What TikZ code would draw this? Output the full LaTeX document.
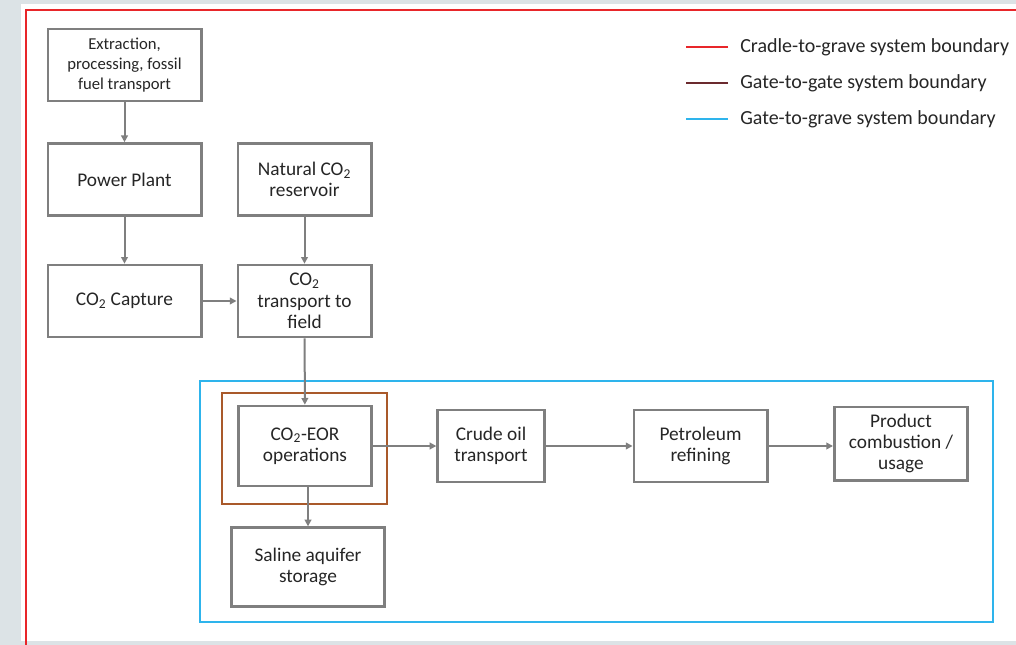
\documentclass[tikz,border=0pt]{standalone}
\usepackage{fontspec}
\setmainfont{Carlito}
\usepackage{xcolor}
\usetikzlibrary{arrows.meta, positioning}

\definecolor{pagegrey}{HTML}{DCE3E6}
\definecolor{boxgrey}{HTML}{7F7F7F}
\definecolor{txtgrey}{HTML}{262626}
\definecolor{cradlered}{HTML}{E8262A}
\definecolor{gatebrown}{HTML}{A9592A}
\definecolor{legbrown}{HTML}{6B2A2E}
\definecolor{gravecyan}{HTML}{2EB4EC}

\begin{document}
\begin{tikzpicture}[
    x=0.75pt, y=-0.75pt,
    stage/.style={rectangle, draw=boxgrey, fill=white, line width=2pt, minimum width=100pt, minimum height=54pt, align=center, text=txtgrey, inner sep=1pt, font=\fontsize{14.5}{16}\selectfont},
    widestage/.style={stage, minimum width=115pt},
    flow/.style={draw=boxgrey, line width=1.5pt, -{Triangle[length=5pt, width=5pt]}},
    legtext/.style={anchor=west, text=txtgrey, inner sep=0pt, font=\fontsize{15}{17}\selectfont}
]
    % Page
    \useasboundingbox (0,0) rectangle (1016,645);
    \fill[pagegrey] (0,0) rectangle (1016,645);
    \fill[white] (21,4) rectangle (1016,641);
    \draw[cradlered, line width=1.3pt] (1016,10) -- (26,10) -- (26,645);

    % Boundaries
    \draw[gravecyan, line width=1.5pt] (200,381) rectangle (993,622);
    \draw[gatebrown, line width=1.2pt] (222,393) rectangle (387,504);

    % Upstream
    \node[widestage, font=\fontsize{12.5}{15}\selectfont] (ext) at (124.5,65) {Extraction,\\processing, fossil\\fuel transport};
    \node[widestage] (plant) at (124.5,179.5) {Power Plant};
    \node[widestage] (capture) at (124.5,301) {CO\textsubscript{2} Capture};
    \node[stage] (natural) at (304.5,179.5) {Natural CO\textsubscript{2}\\reservoir};
    \node[stage] (transp) at (304.5,301) {CO\textsubscript{2}\\transport to\\field};

    % Field and downstream
    \node[stage, minimum height=60pt] (eor) at (305,446) {CO\textsubscript{2}-EOR\\operations};
    \node[stage, minimum width=80pt] (crude) at (491,446) {Crude oil\\transport};
    \node[stage] (refine) at (700.5,446) {Petroleum\\refining};
    \node[stage, minimum height=55pt] (usage) at (901,443.5) {Product\\combustion /\\usage};
    \node[widestage, minimum height=59pt] (saline) at (308,567) {Saline aquifer\\storage};

    % Connectors
    \draw[flow] (ext) -- (plant);
    \draw[flow] (plant) -- (capture);
    \draw[flow] (natural) -- (transp);
    \draw[flow] (capture) -- (transp);
    \draw[flow] (transp) -- (eor);
    \draw[flow] (eor.south -| saline) -- (saline);
    \draw[flow] (eor) -- (crude);
    \draw[flow] (crude) -- (refine);
    \draw[flow] (refine) -- (refine -| usage.west);

    % Legend
    \node[legtext] (lgcradle) at (740,47) {Cradle-to-grave system boundary};
    \node[legtext] (lggate) at (740,83) {Gate-to-gate system boundary};
    \node[legtext] (lggrave) at (740,119) {Gate-to-grave system boundary};
    \draw[cradlered, line width=1.2pt] ([xshift=-9pt]lgcradle.west) -- ++(-31.5pt,0);
    \draw[legbrown, line width=1.2pt] ([xshift=-9pt]lggate.west) -- ++(-31.5pt,0);
    \draw[gravecyan, line width=1.2pt] ([xshift=-9pt]lggrave.west) -- ++(-31.5pt,0);
\end{tikzpicture}
\end{document}
